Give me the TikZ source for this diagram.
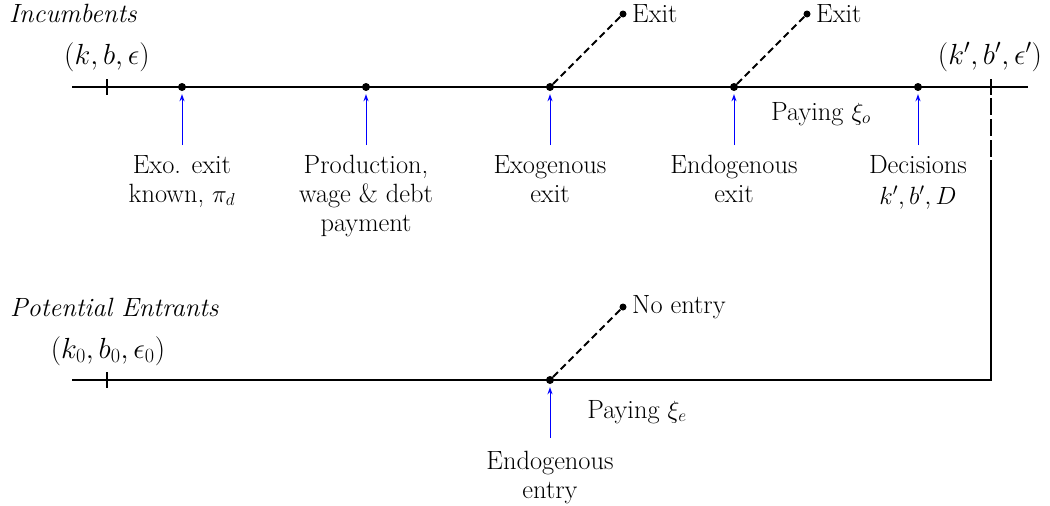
\documentclass[tikz,border=0pt]{standalone}
\usetikzlibrary{arrows.meta}
\newcommand{\bigstate}[1]{\scalebox{1.17}{$#1$}}
\begin{document}
\begin{tikzpicture}[x=1pt,y=-1pt,
  every node/.style={font=\fontsize{26.4}{29}\selectfont, inner sep=0pt},
  dot/.style={circle,fill=black,inner sep=0pt,minimum size=8pt},
  sdot/.style={circle,fill=black,inner sep=0pt,minimum size=7pt},
  axis/.style={line width=1.3pt},
  tickmark/.style={line width=2.2pt},
  exitline/.style={line width=1.8pt,dash pattern=on 7pt off 4pt},
  event/.style={-{Stealth[length=7pt,width=5pt]},blue,line width=1pt,shorten >=3pt},
  lab/.style={anchor=north,align=center}]
\useasboundingbox (0,0) rectangle (1050,506);

% axes
\coordinate (tl) at (72,87);
\coordinate (tr) at (1028,87);
\coordinate (t0a) at (107,79);
\coordinate (t0b) at (107,95);
\coordinate (r1) at (991,79);
\coordinate (r2) at (991,95);
\coordinate (r2b) at (991,98);
\coordinate (r3) at (991,160);
\coordinate (r4) at (991,380);
\coordinate (bl) at (72,380);
\coordinate (b0a) at (107,372);
\coordinate (b0b) at (107,388);

\draw[axis] (tl) -- (tr);
\draw[tickmark] (t0a) -- (t0b);
\draw[tickmark] (r1) -- (r2);
\draw[line width=2.2pt, dash pattern=on 17pt off 4pt] (r2b) -- (r3);
\draw[axis] (r3) -- (r4) -- (bl);
\draw[tickmark] (b0a) -- (b0b);

% event dots
\node[dot] (d1) at (182,87) {};
\node[dot] (d2) at (366,87) {};
\node[dot] (d3) at (550,87) {};
\node[dot] (d4) at (734,87) {};
\node[dot] (d5) at (918,87) {};
\node[dot] (db) at (550,380) {};

% exit branches
\node[sdot] (e1) at (623,14) {};
\node[sdot] (e2) at (807,14) {};
\node[sdot] (en) at (623,307) {};
\draw[exitline] (d3) -- (e1);
\draw[exitline] (d4) -- (e2);
\draw[exitline] (db) -- (en);
\node[anchor=base west] (x1) at (632,23) {Exit};
\node[anchor=base west] (x2) at (816,23) {Exit};
\node[anchor=base west] (ne) at (632,313) {No entry};

% labels
\node[lab] (l1) at (182,155) {Exo. exit\\known, $\pi_d$};
\node[lab] (l2) at (366,155) {Production,\\wage \& debt\\payment};
\node[lab] (l3) at (550,155) {Exogenous\\exit};
\node[lab] (l4) at (734,155) {Endogenous\\exit};
\node[lab] (l5) at (918,155) {Decisions\\[2pt]$k',b',D$};
\node[lab] (lb) at (550,451) {Endogenous\\entry};

\draw[event,shorten <=10pt] (l1.north) -- (d1.south);
\draw[event,shorten <=10pt] (l2.north) -- (d2.south);
\draw[event,shorten <=10pt] (l3.north) -- (d3.south);
\draw[event,shorten <=10pt] (l4.north) -- (d4.south);
\draw[event,shorten <=10pt] (l5.north) -- (d5.south);
\draw[event,shorten <=13pt] (lb.north) -- (db.south);

% titles and states
\node[anchor=base west] (inc) at (9,23) {\itshape Incumbents};
\node[anchor=base west] (pe) at (10,316) {\itshape Potential Entrants};
\node[anchor=base] (s0) at (107,64) {\bigstate{(k,b,\epsilon)}};
\node[anchor=base] (s1) at (990,64) {\bigstate{(k',b',\epsilon')}};
\node[anchor=base] (s2) at (108,358) {\bigstate{(k_0,b_0,\epsilon_0)}};
\node[anchor=base] (p1) at (821,120) {Paying $\xi_o$};
\node[anchor=base] (p2) at (637,418) {Paying $\xi_e$};
\end{tikzpicture}
\end{document}
